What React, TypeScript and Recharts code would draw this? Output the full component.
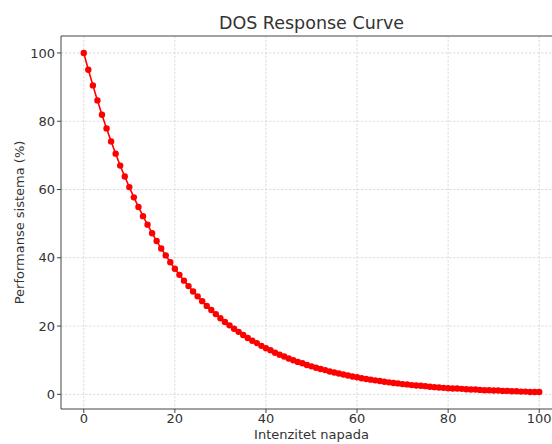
import { CartesianGrid, Label, Line, LineChart, ReferenceLine, XAxis, YAxis } from "recharts"

const intensity = [
  0, 1, 2, 3, 4, 5, 6, 7, 8, 9, 10, 11, 12, 13, 14, 15, 16, 17, 18, 19, 20, 21, 22, 23, 24, 25, 26, 27, 28, 29, 30, 31,
  32, 33, 34, 35, 36, 37, 38, 39, 40, 41, 42, 43, 44, 45, 46, 47, 48, 49, 50, 51, 52, 53, 54, 55, 56, 57, 58, 59, 60, 61,
  62, 63, 64, 65, 66, 67, 68, 69, 70, 71, 72, 73, 74, 75, 76, 77, 78, 79, 80, 81, 82, 83, 84, 85, 86, 87, 88, 89, 90, 91,
  92, 93, 94, 95, 96, 97, 98, 99, 100,
]

const performance = [
  100.0, 95.1, 90.5, 86.1, 81.9, 77.9, 74.1, 70.5, 67.0, 63.8, 60.7, 57.7, 54.9, 52.2, 49.7, 47.2, 44.9, 42.7, 40.7,
  38.7, 36.8, 35.0, 33.3, 31.7, 30.1, 28.7, 27.3, 25.9, 24.7, 23.5, 22.3, 21.2, 20.2, 19.2, 18.3, 17.4, 16.5, 15.7, 15.0,
  14.2, 13.5, 12.9, 12.2, 11.6, 11.1, 10.5, 10.0, 9.5, 9.1, 8.6, 8.2, 7.8, 7.4, 7.1, 6.7, 6.4, 6.1, 5.8, 5.5, 5.2, 5.0,
  4.7, 4.5, 4.3, 4.1, 3.9, 3.7, 3.5, 3.3, 3.2, 3.0, 2.9, 2.7, 2.6, 2.5, 2.4, 2.2, 2.1, 2.0, 1.9, 1.8, 1.7, 1.7, 1.6, 1.5,
  1.4, 1.4, 1.3, 1.2, 1.2, 1.1, 1.1, 1.0, 1.0, 0.9, 0.9, 0.8, 0.8, 0.7, 0.7, 0.7,
]

const xTicks = [0, 20, 40, 60, 80, 100]
const yTicks = [0, 20, 40, 60, 80, 100]

const data = intensity.map((x, i) => ({ x, y: performance[i] }))

const font = "DejaVu Sans, sans-serif"
const textColor = "#333333"
const axisColor = "#444444"

export default function App() {
  return (
    <div style={{ position: "absolute", left: 0, top: 0, width: 552, height: 444, overflow: "hidden", background: "#fff" }}>
      <svg width={552} height={40} style={{ position: "absolute", left: 0, top: 0 }}>
        <text x={311.5} y={29} textAnchor="middle" fontFamily={font} fontSize={17.5} fill={textColor}>
          DOS Response Curve
        </text>
      </svg>
      <div style={{ position: "absolute", left: 0, top: 0 }}>
        <LineChart width={570} height={444} data={data} margin={{ top: 36, right: 8, bottom: 0, left: 0 }}>
          <CartesianGrid stroke="#d6d6d6" strokeDasharray="2.5 1.5" strokeWidth={0.8} horizontalValues={yTicks} verticalValues={xTicks} />
          <XAxis
            dataKey="x"
            type="number"
            domain={[-5, 105]}
            ticks={xTicks}
            allowDataOverflow
            height={35}
            tickSize={4}
            tickMargin={1}
            stroke={axisColor}
            tick={{ fill: textColor, fontSize: 13, fontFamily: font }}
          >
            <Label value="Intenzitet napada" position="insideBottom" offset={5} fill={textColor} fontSize={13} fontFamily={font} />
          </XAxis>
          <YAxis
            type="number"
            domain={[-4.3, 104.97]}
            ticks={yTicks}
            allowDataOverflow
            width={61}
            tickSize={4}
            tickMargin={2}
            stroke={axisColor}
            tick={{ fill: textColor, fontSize: 13, fontFamily: font }}
          >
            <Label
              content={() => (
                <text
                  x={24}
                  y={222.5}
                  transform="rotate(-90 24 222.5)"
                  textAnchor="middle"
                  fill={textColor}
                  fontSize={13}
                  fontFamily={font}
                >
                  Performanse sistema (%)
                </text>
              )}
            />
          </YAxis>
          <ReferenceLine y={104.97} stroke={axisColor} />
          <ReferenceLine x={105} stroke={axisColor} />
          <Line
            dataKey="y"
            type="linear"
            stroke="#ff0000"
            strokeWidth={1.6}
            dot={{ r: 3.2, fill: "#ff0000", stroke: "#ff0000", strokeWidth: 0 }}
            activeDot={false}
            isAnimationActive={false}
          />
        </LineChart>
      </div>
    </div>
  )
}
